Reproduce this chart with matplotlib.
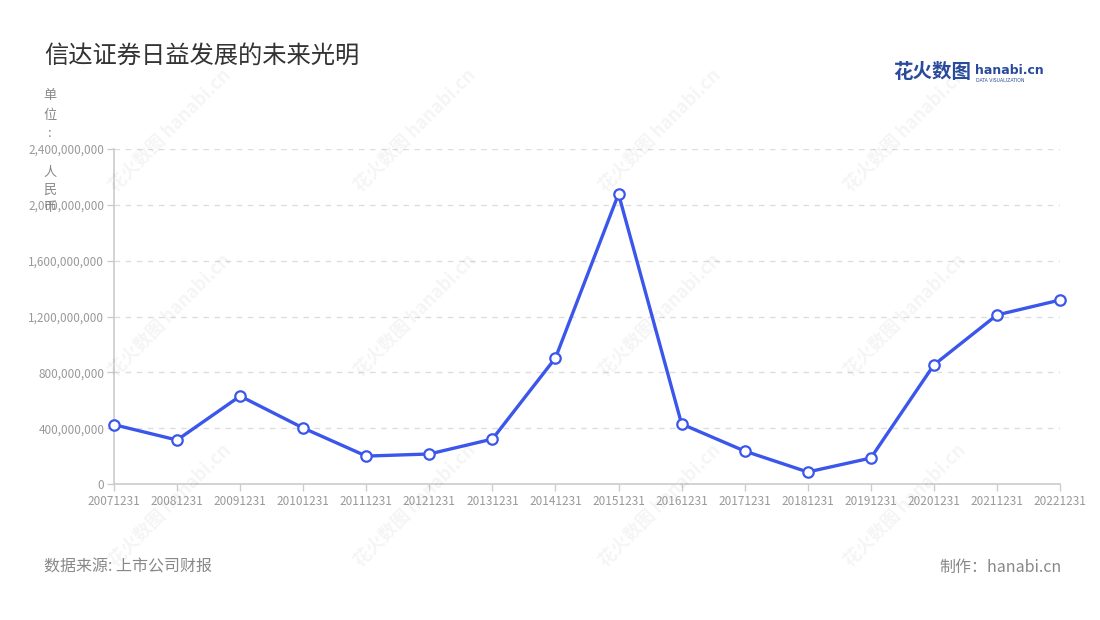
import matplotlib
matplotlib.use("Agg")
import matplotlib.pyplot as plt
from matplotlib.ticker import FuncFormatter

plt.rcParams['font.family'] = ['Noto Sans CJK SC', 'DejaVu Sans']

categories = ["20071231", "20081231", "20091231", "20101231", "20111231", "20121231",
              "20131231", "20141231", "20151231", "20161231", "20171231", "20181231",
              "20191231", "20201231", "20211231", "20221231"]
values = [425e6, 315e6, 630e6, 401e6, 200e6, 215e6, 322e6, 903e6, 2078e6, 430e6,
          236e6, 86e6, 186e6, 853e6, 1211e6, 1318e6]
y_ticks = [0, 400e6, 800e6, 1200e6, 1600e6, 2000e6, 2400e6]

title = "信达证券日益发展的未来光明"
unit_label = "单位：人民币"
source = "数据来源: 上市公司财报"
maker = "制作：hanabi.cn"

fig = plt.figure(figsize=(11, 6.2), dpi=100)
ax = fig.add_axes([114/1100, 1-484/620, (1060-114)/1100, (484-149)/620])

# watermarks
for wx in [170, 415, 660, 905]:
    for wy in [130, 315, 505]:
        fig.text(wx/1100, 1-wy/620, "花火数图 hanabi.cn", rotation=45, fontsize=13,
                 color="#000000", alpha=0.045, ha="center", va="center", fontweight="bold")

x = list(range(len(categories)))
ax.plot(x, values, color="#3b56ea", lw=2.4, marker="o", markersize=7.5,
        markerfacecolor="white", markeredgecolor="#3b56ea", markeredgewidth=1.6,
        zorder=5, clip_on=False)

ax.set_xlim(0, len(categories) - 1)
ax.set_ylim(0, 2400e6)
ax.set_xticks(x)
ax.set_xticklabels(categories)
ax.set_yticks(y_ticks)
ax.yaxis.set_major_formatter(FuncFormatter(lambda v, p: f"{int(v):,}"))
ax.tick_params(axis="both", colors="#cccccc", labelcolor="#999999", labelsize=8.5,
               length=5, width=1)
ax.tick_params(axis="x", pad=3)
ax.tick_params(axis="y", pad=2)
ax.grid(axis="y", color="#dddddd", linestyle=(0, (4, 4)), lw=1)
ax.set_axisbelow(True)
for s in ["top", "right"]:
    ax.spines[s].set_visible(False)
for s in ["left", "bottom"]:
    ax.spines[s].set_color("#cccccc")
    ax.spines[s].set_linewidth(1.2)

fig.text(44/1100, 1-56/620, title, fontsize=17.5, color="#333333", ha="left", va="center")

# vertical unit label
unit_y = [96, 115, 134, 172, 190, 208]
for ch, uy in zip(unit_label.replace("：", ":"), unit_y):
    fig.text(50/1100, 1-uy/620, ch, fontsize=9.5, color="#888888", ha="center", va="center")

# logo
fig.text(893/1100, 1-73/620, "花火数图", fontsize=14, color="#2a4a9c", ha="left",
         va="center", fontweight="bold")
fig.text(975/1100, 1-70/620, "hanabi.cn", fontsize=9, color="#2a4a9c", ha="left",
         va="center", fontweight="bold", family="DejaVu Sans")
fig.text(976/1100, 1-80/620, "DATA VISUALIZATION", fontsize=3.3, color="#2a4a9c",
         ha="left", va="center", family="DejaVu Sans")

fig.text(44/1100, 1-567/620, source, fontsize=11.5, color="#888888", ha="left", va="center")
fig.text(1062/1100, 1-567/620, maker, fontsize=11.5, color="#888888", ha="right", va="center")

fig.savefig("out.png", dpi=100, facecolor="white")
